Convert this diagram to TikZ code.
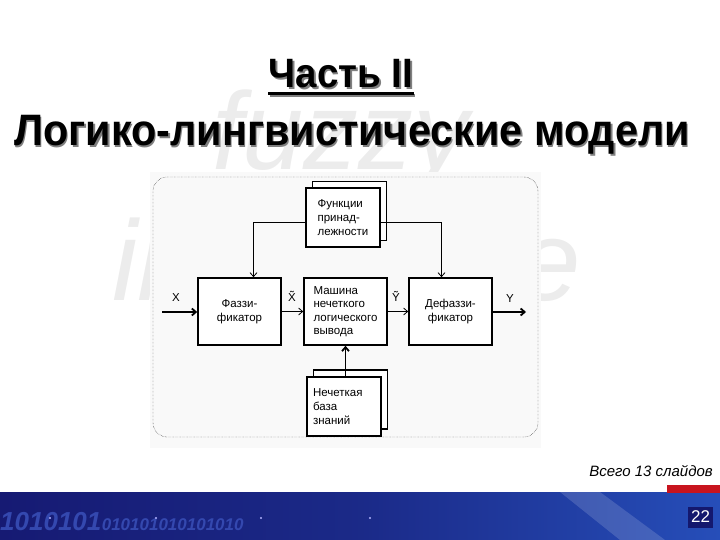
\documentclass[tikz,border=0pt]{standalone}
\usepackage{fontspec}
\setmainfont{Liberation Sans}
\newfontfamily\headfont[FakeStretch=0.94]{Liberation Sans}
\usetikzlibrary{positioning,arrows.meta}

\definecolor{navy}{RGB}{22,26,115}
\definecolor{midblue}{RGB}{38,78,185}
\definecolor{digitblue}{RGB}{52,72,175}
\definecolor{pagebg}{RGB}{20,24,110}
\definecolor{barred}{RGB}{200,20,30}
\definecolor{mark}{RGB}{236,236,236}

\begin{document}
\begin{tikzpicture}[
            x=1pt, y=-1pt,
            node distance=4pt,
            >={Straight Barb[length=4pt,width=7pt]},
            block/.style={draw, line width=1.6pt, fill=white, minimum width=83, minimum height=67, inner sep=2pt, font=\fontsize{11.5}{13.5}\selectfont},
            sheet/.style={draw, line width=1.6pt, fill=white, minimum width=74, minimum height=59, inner sep=2pt, font=\fontsize{11.5}{14}\selectfont},
            lbl/.style={inner sep=0pt, font=\fontsize{11.5}{11.5}\selectfont},
            thin/.style={->, line width=0.8pt},
            thick/.style={->, line width=1.8pt},
            heading/.style={anchor=base, inner sep=0pt}
        ]
            \useasboundingbox (0,0) rectangle (720,540);
            % watermarks
            \node[anchor=base west, inner sep=0pt, text=mark, font=\itshape\fontsize{110}{110}\selectfont] (fuzzy) at (212,170) {fuzzy};
            \node[anchor=base west, inner sep=0pt, text=mark, font=\itshape\fontsize{114}{114}\selectfont] (infer) at (112,300) {inference};
            % title
            \node[heading, text=gray, font=\headfont\bfseries\fontsize{41}{44}\selectfont] at (342.5,89.5) {Часть II};
            \node[heading, font=\headfont\bfseries\fontsize{41}{44}\selectfont] (part) at (341,88) {Часть II};
            \draw[gray, line width=3pt] ([xshift=1.5pt,yshift=-7.5pt]part.base west) -- ([xshift=1.5pt,yshift=-7.5pt]part.base east);
            \draw[line width=3pt] ([yshift=-6pt]part.base west) -- ([yshift=-6pt]part.base east);
            \node[heading, text=gray, font=\headfont\bfseries\fontsize{44}{48}\selectfont] at (353.5,147.5) {Логико-лингвистические модели};
            \node[heading, font=\headfont\bfseries\fontsize{44}{48}\selectfont] (models) at (352,146) {Логико-лингвистические модели};

            % diagram
            \fill[gray!5] (150,172) rectangle (541,448);
            \draw[densely dotted, rounded corners=14pt] (153,177) rectangle (538,437);

            \node[sheet] (memberb) at (349.5,211) {};
            \node[sheet, align=left] (member) at (343,217.5) {Функции\\принад-\\лежности};
            \node[block, align=center] (fuzz) at (239.5,311.5) {Фаззи-\\фикатор};
            \node[block, align=left] (engine) at (345.5,311.5) {Машина\\нечеткого\\логического\\вывода};
            \node[block, align=center] (defuzz) at (450.5,311.5) {Дефаззи-\\фикатор};
            \node[sheet] (kbaseb) at (350.5,399.5) {};
            \node[sheet, align=left, text width=62] (kbase) at (344,406.5) {Нечеткая\\база\\знаний};

            \coordinate (xin) at (162,312);
            \coordinate (yout) at (526,312);
            \draw[thick] (xin) -- (fuzz.west |- xin);
            \draw[thin] (fuzz.east) -- (engine.west);
            \draw[thin] (engine.east) -- (defuzz.west);
            \draw[thick] (defuzz.east |- yout) -- (yout);
            \draw[thin] ([yshift=-5pt]member.west) -| ([xshift=14pt]fuzz.north);
            \draw[thin] ([yshift=-5pt]member.east) -| ([xshift=-9pt]defuzz.north);
            \draw[thick] (engine.south |- kbase.north) -- (engine.south);

            \node[lbl] (xlab) at (176,298) {X};
            \node[lbl] (xtlab) at (292,296) {\~{X}};
            \node[lbl] (ytlab) at (396,296) {\~{Y}};
            \node[lbl] (ylab) at (510,299) {Y};

            % footer
            \node[anchor=base east, inner sep=0pt, font=\itshape\fontsize{15}{15}\selectfont] (total) at (713,476) {Всего 13 слайдов};
            \shade[left color=navy, right color=midblue, middle color=navy!70!midblue] (0,492) rectangle (720,540);
            \fill[white, opacity=0.15] (560,492) -- (600,492) -- (665,540) -- (620,540) -- cycle;
            \fill[barred] (667,485) rectangle (720,493);
            \node[anchor=base west, inner sep=0pt, text=digitblue, font=\itshape\bfseries\fontsize{26}{26}\selectfont] (bits) at (0,530) {1010101};
            \node[anchor=base west, inner sep=0pt, text=digitblue, font=\itshape\bfseries\fontsize{17}{17}\selectfont] (bitsb) at (bits.base east) {010101010101010};
            \foreach \dx in {50,156,261,370}
                \fill[white!70!blue] (\dx,518) circle (1.2);
            \node[fill=pagebg, text=white, minimum width=25, minimum height=21, inner sep=0pt, font=\fontsize{17}{17}\selectfont] (page) at (700.5,517) {22};
        \end{tikzpicture}
\end{document}
